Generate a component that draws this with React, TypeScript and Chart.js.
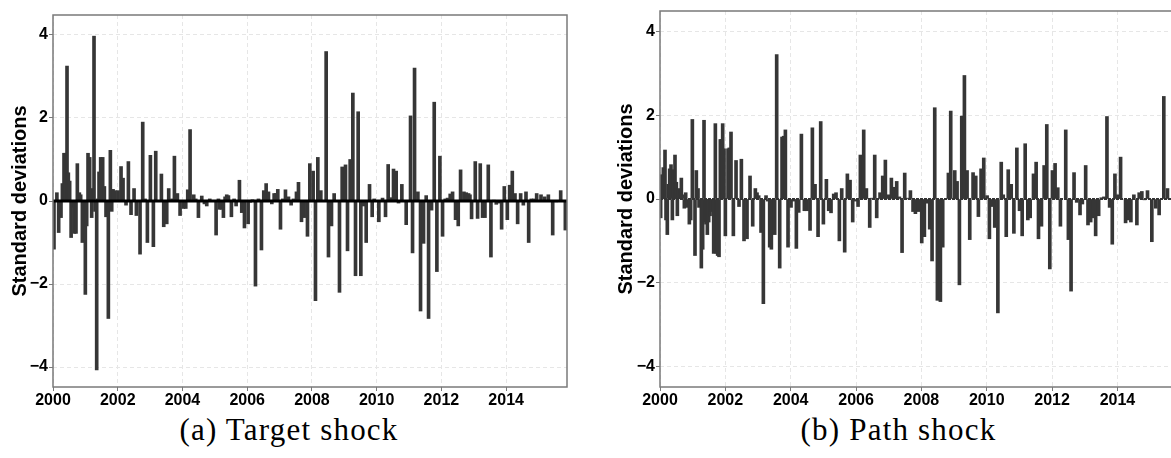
import React, { useEffect, useRef } from 'react';
import { Chart, registerables } from 'chart.js';

Chart.register(...registerables);

// ---------- data ----------
const targetDates = [
  2000.03, 2000.12, 2000.175, 2000.247, 2000.29, 2000.34, 2000.38, 2000.433, 2000.474, 2000.515,
  2000.56, 2000.61, 2000.66, 2000.71, 2000.752, 2000.814, 2000.855, 2000.907, 2000.999, 2001.041,
  2001.082, 2001.133, 2001.164, 2001.195, 2001.226, 2001.267, 2001.298, 2001.35, 2001.381, 2001.422,
  2001.473, 2001.535, 2001.587, 2001.638, 2001.71, 2001.772, 2001.814, 2001.855, 2001.917, 2002.009,
  2002.102, 2002.164, 2002.256, 2002.329, 2002.411, 2002.504, 2002.576, 2002.689, 2002.772, 2002.844,
  2002.916, 2003.009, 2003.101, 2003.174, 2003.349, 2003.421, 2003.514, 2003.575, 2003.678, 2003.751,
  2003.843, 2003.926, 2004.029, 2004.101, 2004.163, 2004.235, 2004.348, 2004.41, 2004.493, 2004.596,
  2004.678, 2004.75, 2004.843, 2005.039, 2005.111, 2005.152, 2005.204, 2005.265, 2005.317, 2005.368,
  2005.42, 2005.512, 2005.595, 2005.657, 2005.76, 2005.832, 2005.915, 2006.028, 2006.09, 2006.162,
  2006.255, 2006.348, 2006.44, 2006.512, 2006.585, 2006.657, 2006.76, 2006.832, 2006.883, 2006.945,
  2007.028, 2007.1, 2007.182, 2007.275, 2007.357, 2007.43, 2007.522, 2007.584, 2007.677, 2007.759,
  2007.862, 2007.934, 2008.037, 2008.109, 2008.182, 2008.274, 2008.439, 2008.511, 2008.604, 2008.686,
  2008.851, 2008.934, 2009.037, 2009.099, 2009.181, 2009.264, 2009.346, 2009.428, 2009.511, 2009.593,
  2009.676, 2009.779, 2009.861, 2009.923, 2010.067, 2010.181, 2010.273, 2010.355, 2010.438, 2010.52,
  2010.603, 2010.675, 2010.778, 2010.912, 2011.046, 2011.108, 2011.17, 2011.273, 2011.355, 2011.448,
  2011.53, 2011.603, 2011.695, 2011.778, 2011.86, 2011.953, 2012.035, 2012.118, 2012.19, 2012.272,
  2012.345, 2012.437, 2012.52, 2012.592, 2012.695, 2012.767, 2012.839, 2012.881, 2012.932, 2013.046,
  2013.118, 2013.2, 2013.272, 2013.345, 2013.448, 2013.53, 2013.623, 2013.695, 2013.778, 2013.86,
  2013.943, 2014.036, 2014.108, 2014.19, 2014.273, 2014.355, 2014.448, 2014.531, 2014.613, 2014.696,
  2014.778, 2014.861, 2014.943, 2015.077, 2015.19, 2015.304, 2015.438, 2015.551, 2015.685, 2015.829,
];
const targetValues = [
  -1.16, 0.2, -0.76, -0.4, 0.42, 1.15, 1.15, 3.25, 0.68, 0.48,
  -0.88, -0.15, -0.78, -0.78, 0.9, 0.2, 0.15, -1.0, -2.25, -0.6,
  1.15, 1.05, 0.15, -0.4, 0.3, 3.97, -0.25, -4.07, 0.05, 0.7,
  1.05, 1.05, 0.35, -0.38, -2.83, 1.22, -0.25, 0.28, 0.25, 0.25,
  0.83, 0.55, -0.1, 0.95, -0.33, 0.3, -0.35, -1.28, 1.9, 0.05,
  -1.0, 1.1, -1.1, 1.2, 0.65, -0.62, -0.55, 0.3, 0.05, 1.08,
  0.18, -0.35, -0.18, -0.18, 0.27, 1.72, 0.15, 0.05, -0.4, 0.12,
  -0.07, -0.12, 0.05, -0.82, 0.05, -0.2, -0.2, -0.4, 0.1, 0.15,
  0.13, -0.38, 0.05, -0.12, 0.5, -0.28, -0.65, -0.55, -0.03, 0.03,
  -2.05, 0.05, -1.18, 0.25, 0.42, 0.22, -0.07, 0.18, 0.18, 0.28,
  -0.68, 0.05, 0.27, 0.1, -0.1, 0.05, 0.22, 0.45, -0.5, -0.4,
  -0.85, 0.9, 0.72, -2.4, 1.05, 0.25, 3.6, -1.35, -0.6, 0.18,
  -2.2, 0.82, 0.87, -1.2, 1.0, 2.6, -1.8, 2.15, -1.8, -0.12,
  -1.0, 0.4, -0.38, 0.05, -0.5, 0.07, -0.38, 0.88, 0.08, 0.77,
  0.72, -0.05, 0.4, -0.57, 2.05, -1.25, 3.2, 0.22, -2.65, -1.02,
  0.13, -2.83, -0.22, 2.38, -1.7, 1.08, -0.85, 0.05, 0.07, 0.17,
  0.22, -0.45, -0.6, 0.75, 0.22, 0.2, 0.18, 0.15, -0.43, 0.95,
  -0.42, 0.9, -0.4, -0.4, 0.87, -1.35, 0.02, -0.08, -0.05, -0.68,
  0.35, -0.45, 0.38, 0.72, 0.18, -0.55, 0.18, -0.1, 0.22, -1.0,
  0.05, 0.05, 0.18, 0.15, 0.1, 0.15, -0.82, -0.02, 0.25, -0.7,
];

const pathDates = [
  2000.02, 2000.051, 2000.102, 2000.153, 2000.184, 2000.224, 2000.255, 2000.296, 2000.337, 2000.378,
  2000.408, 2000.459, 2000.5, 2000.531, 2000.571, 2000.612, 2000.653, 2000.704, 2000.745, 2000.786,
  2000.837, 2000.898, 2000.939, 2000.99, 2001.071, 2001.112, 2001.163, 2001.194, 2001.265, 2001.306,
  2001.347, 2001.378, 2001.408, 2001.449, 2001.49, 2001.531, 2001.561, 2001.643, 2001.694, 2001.724,
  2001.765, 2001.806, 2001.847, 2001.878, 2001.918, 2001.959, 2002.0, 2002.082, 2002.122, 2002.173,
  2002.245, 2002.327, 2002.418, 2002.49, 2002.571, 2002.663, 2002.755, 2002.837, 2002.918, 2002.969,
  2003.02, 2003.092, 2003.163, 2003.245, 2003.296, 2003.357, 2003.408, 2003.51, 2003.571, 2003.663,
  2003.735, 2003.786, 2003.837, 2003.918, 2004.01, 2004.092, 2004.173, 2004.245, 2004.327, 2004.418,
  2004.5, 2004.592, 2004.663, 2004.745, 2004.837, 2004.918, 2005.0, 2005.092, 2005.163, 2005.234,
  2005.316, 2005.387, 2005.489, 2005.561, 2005.652, 2005.734, 2005.816, 2005.897, 2005.979, 2006.061,
  2006.132, 2006.234, 2006.316, 2006.418, 2006.489, 2006.571, 2006.632, 2006.734, 2006.816, 2006.897,
  2006.999, 2007.081, 2007.163, 2007.244, 2007.326, 2007.408, 2007.489, 2007.581, 2007.663, 2007.744,
  2007.816, 2007.908, 2008.01, 2008.091, 2008.163, 2008.254, 2008.326, 2008.408, 2008.489, 2008.581,
  2008.652, 2008.826, 2008.897, 2009.02, 2009.091, 2009.163, 2009.234, 2009.316, 2009.397, 2009.479,
  2009.581, 2009.663, 2009.744, 2009.826, 2009.908, 2010.01, 2010.081, 2010.152, 2010.244, 2010.34,
  2010.443, 2010.504, 2010.596, 2010.657, 2010.748, 2010.83, 2010.921, 2011.003, 2011.084, 2011.176,
  2011.257, 2011.328, 2011.43, 2011.511, 2011.583, 2011.674, 2011.756, 2011.837, 2011.929, 2012.01,
  2012.091, 2012.173, 2012.254, 2012.417, 2012.498, 2012.58, 2012.671, 2012.753, 2012.854, 2012.925,
  2013.027, 2013.098, 2013.18, 2013.251, 2013.332, 2013.424, 2013.505, 2013.587, 2013.678, 2013.76,
  2013.841, 2013.922, 2014.014, 2014.095, 2014.248, 2014.329, 2014.411, 2014.502, 2014.594, 2014.665,
  2014.746, 2014.828, 2014.919, 2015.052, 2015.174, 2015.275, 2015.418, 2015.53,
];
const pathValues = [
  -0.45, 0.58, 0.75, 1.17, -0.5, -0.85, 0.35, 0.72, 0.82, -0.5,
  0.7, 1.05, 0.4, -0.4, 0.25, 0.2, 0.5, 0.1, -0.22, 0.15,
  -0.2, -0.6, -0.5, 1.9, -1.35, 0.68, 0.25, -0.2, -1.65, -1.2,
  1.88, -0.55, -0.6, -0.85, -0.55, -0.4, -0.3, -1.3, 1.8, -1.3,
  -1.35, -1.38, 1.42, 1.42, 1.8, 1.2, -0.88, 1.2, 1.22, 1.6,
  -0.88, 0.92, -0.18, 0.95, -1.0, -0.95, 0.55, -0.65, 0.25, 0.15,
  0.08, -0.8, -2.5, 0.08, -0.05, -1.15, -1.2, -0.85, 3.45, -1.65,
  1.48, 1.5, 1.65, -1.15, -0.2, -0.05, -1.18, -0.32, 1.55, -0.28,
  -0.28, -0.75, 1.7, 0.35, -0.9, 1.85, -0.6, 0.47, -0.28, -0.33,
  0.12, 0.15, -1.0, 0.25, -1.27, 0.6, 0.45, -0.55, -0.05, -0.18,
  1.05, 1.65, 0.25, -0.68, 0.02, 1.05, -0.45, 0.15, 0.55, 0.93,
  0.1, 0.5, 0.28, 0.42, 0.05, -1.28, 0.62, 0.02, 0.2, -0.3,
  -0.35, -0.3, -1.05, -0.9, -0.1, -0.72, -1.48, 2.18, -2.42, -2.45,
  -1.15, 0.62, 2.1, 0.68, 0.42, -2.05, 1.98, 2.95, 0.68, -0.97,
  0.63, 0.55, -0.42, 0.72, 0.98, 0.08, -0.95, -0.18, -0.68, -2.72,
  0.88, 0.1, -0.9, 0.7, 0.35, -0.82, 1.22, -0.28, -0.88, 1.32,
  -0.5, -0.45, 0.6, 0.88, -0.95, -0.65, 0.8, 1.78, -1.67, 0.68,
  0.85, 0.27, -0.65, 1.65, -0.97, -2.2, 0.63, -0.08, -0.38, -0.12,
  0.8, -0.62, -0.55, -0.45, -0.88, -0.4, 0.03, 0.05, 1.97, -0.2,
  -1.08, 0.6, 0.1, 1.0, -0.57, -0.5, -0.55, 0.1, -0.62, 0.15,
  0.18, -0.02, 0.2, -1.02, -0.22, -0.38, 2.45, 0.25,
];

const xTickValues = [2000, 2002, 2004, 2006, 2008, 2010, 2012, 2014];
const yTickValues = [-4, -2, 0, 2, 4];
const yAxisTitle = 'Standard deviations';
const captionA = '(a) Target shock';
const captionB = '(b) Path shock';

const SANS = '"Liberation Sans", Arial, Helvetica, sans-serif';

type PanelProps = {
  dates: number[];
  values: number[];
  xMax: number;
  yLim: number;
  left: number;
  width: number;
  height: number;
  padTop: number;
  padRight: number;
  yAxisWidth: number;
  xAxisHeight: number;
  titlePad: number;
  zeroColor: string;
  zeroWidth: number;
  zeroDash: number[];
};

function Panel(p: PanelProps) {
  const ref = useRef<HTMLCanvasElement | null>(null);
  useEffect(() => {
    if (!ref.current) return;
    const framePlugin = {
      id: 'frame',
      afterDatasetsDraw(chart: any) {
        const { ctx, chartArea: a, scales } = chart;
        const y0 = scales.y.getPixelForValue(0);
        ctx.save();
        ctx.strokeStyle = p.zeroColor;
        ctx.lineWidth = p.zeroWidth;
        ctx.setLineDash(p.zeroDash);
        ctx.beginPath();
        ctx.moveTo(a.left, y0);
        ctx.lineTo(a.right, y0);
        ctx.stroke();
        ctx.restore();
      },
      afterDraw(chart: any) {
        const { ctx, chartArea: a } = chart;
        ctx.save();
        ctx.strokeStyle = '#7a7a7a';
        ctx.lineWidth = 1.5;
        ctx.strokeRect(a.left, a.top, a.right - a.left, a.bottom - a.top);
        ctx.restore();
      },
    };
    const gridCfg = {
      offset: false,
      color: '#e6e6e6',
      lineWidth: 1,
      tickLength: 4,
      tickColor: '#7a7a7a',
      tickWidth: 1,
    };
    const chart = new Chart(ref.current, {
      type: 'bar',
      data: {
        datasets: [
          {
            data: p.dates.map((d, i) => ({ x: d, y: p.values[i] })),
            backgroundColor: '#363636',
            borderWidth: 0,
            barThickness: 3,
          } as any,
        ],
      },
      options: {
        animation: false,
        responsive: false,
        maintainAspectRatio: false,
        events: [],
        layout: { padding: { left: 0, top: p.padTop, right: p.padRight, bottom: 0 } },
        plugins: { legend: { display: false }, tooltip: { enabled: false } },
        scales: {
          x: {
            type: 'linear',
            min: 2000,
            max: p.xMax,
            offset: false,
            afterBuildTicks: (s: any) => {
              s.ticks = xTickValues.map((v) => ({ value: v }));
            },
            afterFit: (s: any) => {
              s.height = p.xAxisHeight;
            },
            grid: gridCfg,
            border: { display: false, dash: [4, 3] },
            ticks: {
              color: '#000',
              font: { family: SANS, size: 16, weight: 'bold' },
              padding: 0,
              maxRotation: 0,
              autoSkip: false,
              callback: (v: any) => String(v),
            },
          },
          y: {
            type: 'linear',
            min: -p.yLim,
            max: p.yLim,
            afterBuildTicks: (s: any) => {
              s.ticks = yTickValues.map((v) => ({ value: v }));
            },
            afterFit: (s: any) => {
              s.width = p.yAxisWidth;
            },
            grid: gridCfg,
            border: { display: false, dash: [4, 3] },
            ticks: {
              color: '#000',
              font: { family: SANS, size: 16, weight: 'bold' },
              padding: 1,
              callback: (v: any) => (v < 0 ? '\u2212' + Math.abs(v) : String(v)),
            },
            title: {
              display: true,
              text: yAxisTitle,
              color: '#000',
              font: { family: SANS, size: 20, weight: 'bold' },
              padding: { top: p.titlePad, bottom: 0 },
            },
          },
        },
      } as any,
      plugins: [framePlugin],
    });
    return () => chart.destroy();
  }, []);
  return (
    <canvas
      ref={ref}
      width={p.width}
      height={p.height}
      style={{ position: 'absolute', left: p.left, top: 0, width: p.width, height: p.height }}
    />
  );
}

const captionStyle: React.CSSProperties = {
  position: 'absolute',
  top: 414,
  fontFamily: '"Liberation Serif", "Times New Roman", serif',
  fontSize: 31,
  lineHeight: '31px',
  letterSpacing: 1.2,
  textAlign: 'center',
  color: '#000',
  whiteSpace: 'nowrap',
};

export default function App() {
  return (
    <div
      style={{
        position: 'absolute',
        left: 0,
        top: 0,
        width: 1171,
        height: 458,
        overflow: 'hidden',
        background: '#fff',
      }}
    >
      <Panel
        dates={targetDates}
        values={targetValues}
        xMax={2015.88}
        yLim={4.48}
        left={0}
        width={580}
        height={412}
        padTop={15}
        padRight={13}
        yAxisWidth={53}
        xAxisHeight={25}
        titlePad={8}
        zeroColor="#000"
        zeroWidth={2.8}
        zeroDash={[]}
      />
      <Panel
        dates={pathDates}
        values={pathValues}
        xMax={2015.73}
        yLim={4.49}
        left={590}
        width={590}
        height={412}
        padTop={11}
        padRight={6}
        yAxisWidth={70}
        xAxisHeight={25}
        titlePad={24}
        zeroColor="#333"
        zeroWidth={2}
        zeroDash={[3, 1]}
      />
      <div style={{ ...captionStyle, left: 0, width: 578 }}>{captionA}</div>
      <div style={{ ...captionStyle, left: 620, width: 557 }}>{captionB}</div>
    </div>
  );
}
